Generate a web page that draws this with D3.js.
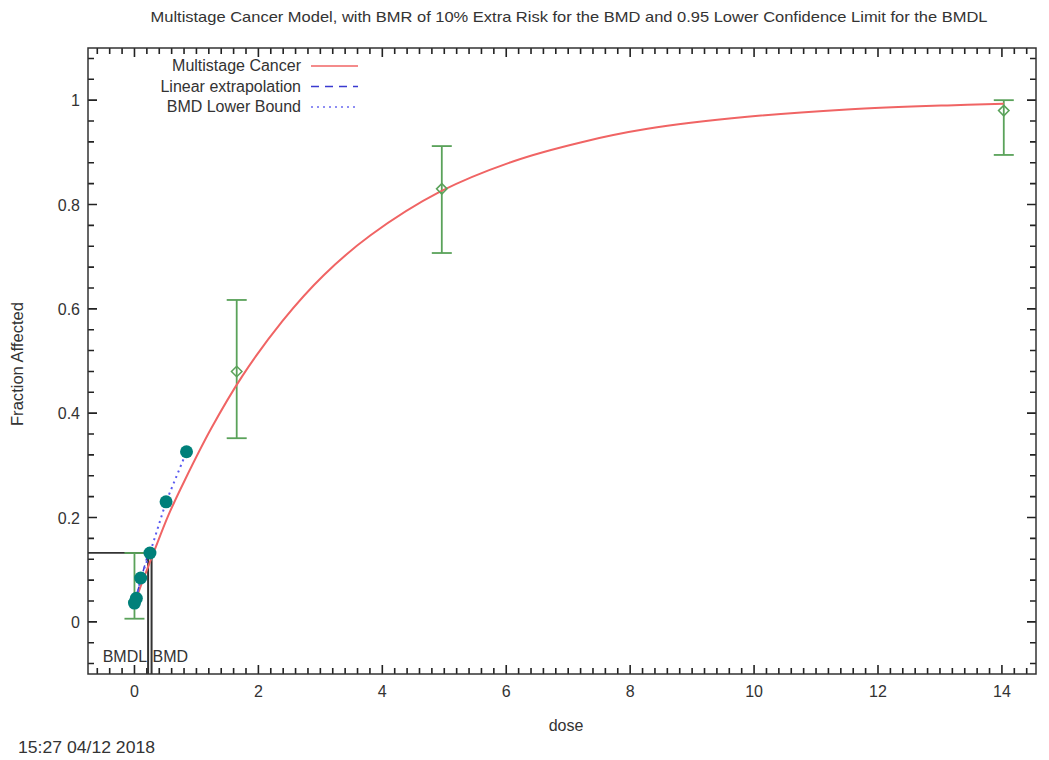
<!DOCTYPE html>
<html>
<head>
<meta charset="utf-8">
<script src="https://cdn.jsdelivr.net/npm/d3@7"></script>
<style>
  body { margin: 0; background: #fff; }
  text { font-family: "Liberation Sans", Arial, sans-serif; fill: #333; }
</style>
</head>
<body>
<div id="vis"></div>
<script>
// observed groups (dose, fraction, confidence limits)
const doses = [0, 1.65, 4.96, 14.03];
const means = [0.04, 0.48, 0.83, 0.98];
const lowerCI = [0.006, 0.352, 0.707, 0.895];
const upperCI = [0.132, 0.617, 0.912, 1.0];

// fitted multistage curve
const curveDose = [0, 0.15, 0.31, 0.55, 0.81, 1.24, 1.74, 2.39, 3.05, 3.81, 4.94, 6.12, 7.2, 8.28, 9.89, 11.5, 13.12, 14.03];
const curveFrac = [0.036, 0.084, 0.133, 0.205, 0.271, 0.371, 0.471, 0.577, 0.664, 0.741, 0.825, 0.883, 0.919, 0.945, 0.968, 0.982, 0.990, 0.993];

// lower bound points
const boundDose = [0, 0.03, 0.1, 0.25, 0.51, 0.84];
const boundFrac = [0.036, 0.045, 0.084, 0.132, 0.23, 0.326];

const bmrLevel = 0.132;
const bmdl = 0.22;
const bmd = 0.276;
const background = 0.036;

const xTicks = [0, 2, 4, 6, 8, 10, 12, 14];
const yTicks = [0, 0.2, 0.4, 0.6, 0.8, 1];

const titleText = "Multistage Cancer Model, with BMR of 10% Extra Risk for the BMD and 0.95 Lower Confidence Limit for the BMDL";
const legendItems = ["Multistage Cancer", "Linear extrapolation", "BMD Lower Bound"];

const W = 1049, H = 760;
const box = {left: 88, right: 1036, top: 48, bottom: 674};

const svg = d3.select("#vis").append("svg")
    .attr("width", W)
    .attr("height", H);

const x = d3.scaleLinear().domain([-0.75, 14.55]).range([box.left, box.right]);
const y = d3.scaleLinear().domain([-0.1, 1.1]).range([box.bottom, box.top]);

const green = "#5aa25a";
const teal = "#00807a";

// ticks, inward on all four sides (minor ones as short paths)
const xMinor = d3.range(-30, 728, 10).map(d => d / 50);
const yMinor = d3.range(-2, 28, 1).map(d => d / 25);
const isMajor = (list, d) => list.some(t => Math.abs(t - d) < 1e-6);

let tickPath = "";
xMinor.forEach(d => {
    const len = isMajor(xTicks, d) ? 9 : 6;
    const px = x(d);
    tickPath += `M${px},${box.bottom}v${-len}M${px},${box.top}v${len}`;
});
yMinor.forEach(d => {
    const len = isMajor(yTicks, d) ? 9 : 6;
    const py = y(d);
    tickPath += `M${box.left},${py}h${len}M${box.right},${py}h${-len}`;
});
svg.append("path")
    .attr("d", tickPath)
    .attr("fill", "none").attr("stroke", "#222").attr("stroke-width", 1.6);

svg.append("rect")
    .attr("x", box.left).attr("y", box.top)
    .attr("width", box.right - box.left).attr("height", box.bottom - box.top)
    .attr("fill", "none").attr("stroke", "#333").attr("stroke-width", 1.5);

// tick labels
svg.append("g").selectAll("text").data(xTicks).join("text")
    .attr("x", d => x(d)).attr("y", 697)
    .attr("text-anchor", "middle").attr("font-size", 16)
    .text(d => d);
svg.append("g").selectAll("text").data(yTicks).join("text")
    .attr("x", 80).attr("y", d => y(d) + 6)
    .attr("text-anchor", "end").attr("font-size", 16)
    .text(d => d);

// axis titles
svg.append("text").attr("x", 566).attr("y", 731)
    .attr("text-anchor", "middle").attr("font-size", 16).text("dose");
svg.append("text")
    .attr("transform", "translate(23,364) rotate(-90)")
    .attr("text-anchor", "middle").attr("font-size", 16)
    .attr("textLength", 124).attr("lengthAdjust", "spacingAndGlyphs")
    .text("Fraction Affected");
svg.append("text").attr("x", 569).attr("y", 22)
    .attr("text-anchor", "middle").attr("font-size", 14.5)
    .attr("textLength", 837).attr("lengthAdjust", "spacingAndGlyphs")
    .text(titleText);
svg.append("text").attr("x", 18).attr("y", 753)
    .attr("font-size", 16)
    .attr("textLength", 137).attr("lengthAdjust", "spacingAndGlyphs")
    .text("15:27 04/12 2018");

// BMD / BMDL markers
const bmdG = svg.append("g").attr("stroke", "#333").attr("fill", "none");
bmdG.append("line")
    .attr("x1", box.left).attr("x2", x(bmd))
    .attr("y1", y(bmrLevel)).attr("y2", y(bmrLevel)).attr("stroke-width", 1.8);
[bmdl, bmd].forEach(v => {
    bmdG.append("line")
        .attr("x1", x(v)).attr("x2", x(v))
        .attr("y1", y(bmrLevel)).attr("y2", box.bottom).attr("stroke-width", 2);
});
svg.append("text").attr("x", x(bmdl) - 1).attr("y", 662)
    .attr("text-anchor", "end").attr("font-size", 16).text("BMDL");
svg.append("text").attr("x", x(bmd) + 1).attr("y", 662)
    .attr("font-size", 16).text("BMD");

// error bars
const obs = doses.map((d, i) => ({dose: d, mean: means[i], lo: lowerCI[i], hi: upperCI[i]}));
const eb = svg.append("g").attr("stroke", green).attr("stroke-width", 1.8).attr("fill", "none");
obs.forEach(o => {
    eb.append("line").attr("x1", x(o.dose)).attr("x2", x(o.dose))
        .attr("y1", y(o.lo)).attr("y2", y(o.hi));
    [o.lo, o.hi].forEach(v => {
        eb.append("line").attr("x1", x(o.dose) - 10).attr("x2", x(o.dose) + 10)
            .attr("y1", y(v)).attr("y2", y(v));
    });
});

// fitted curve
const curvePts = curveDose.map((d, i) => [d, curveFrac[i]]);
svg.append("path")
    .datum(curvePts)
    .attr("fill", "none").attr("stroke", "#f06464").attr("stroke-width", 2)
    .attr("d", d3.line().x(d => x(d[0])).y(d => y(d[1])).curve(d3.curveCatmullRom));

// diamonds
svg.append("g").selectAll("path").data(obs).join("path")
    .attr("d", d3.symbol(d3.symbolDiamond2, 70))
    .attr("transform", d => `translate(${x(d.dose)},${y(d.mean)})`)
    .attr("fill", "none").attr("stroke", green).attr("stroke-width", 1.5);

// linear extrapolation
svg.append("line")
    .attr("x1", x(0)).attr("y1", y(background))
    .attr("x2", x(bmdl)).attr("y2", y(bmrLevel))
    .attr("stroke", "#3a3ad0").attr("stroke-width", 1.5).attr("stroke-dasharray", "6,5");

// lower bound
const boundPts = boundDose.map((d, i) => [d, boundFrac[i]]);
svg.append("path")
    .datum(boundPts)
    .attr("fill", "none").attr("stroke", "#5a5af0").attr("stroke-width", 2)
    .attr("stroke-dasharray", "2,4")
    .attr("d", d3.line().x(d => x(d[0])).y(d => y(d[1])));
svg.append("g").selectAll("circle").data(boundPts).join("circle")
    .attr("cx", d => x(d[0])).attr("cy", d => y(d[1])).attr("r", 6.5)
    .attr("fill", teal);

// legend
const legend = svg.append("g");
const legendStyles = [
    {stroke: "#f06464", dash: null},
    {stroke: "#3a3ad0", dash: "8,6"},
    {stroke: "#6a6af0", dash: "2,4"}
];
legendItems.forEach((t, i) => {
    const ly = 66 + i * 20.5;
    legend.append("text").attr("x", 301).attr("y", ly + 5)
        .attr("text-anchor", "end").attr("font-size", 16).text(t);
    legend.append("line").attr("x1", 311).attr("x2", 358)
        .attr("y1", ly).attr("y2", ly)
        .attr("stroke", legendStyles[i].stroke).attr("stroke-width", 1.5)
        .attr("stroke-dasharray", legendStyles[i].dash);
});
</script>
</body>
</html>
